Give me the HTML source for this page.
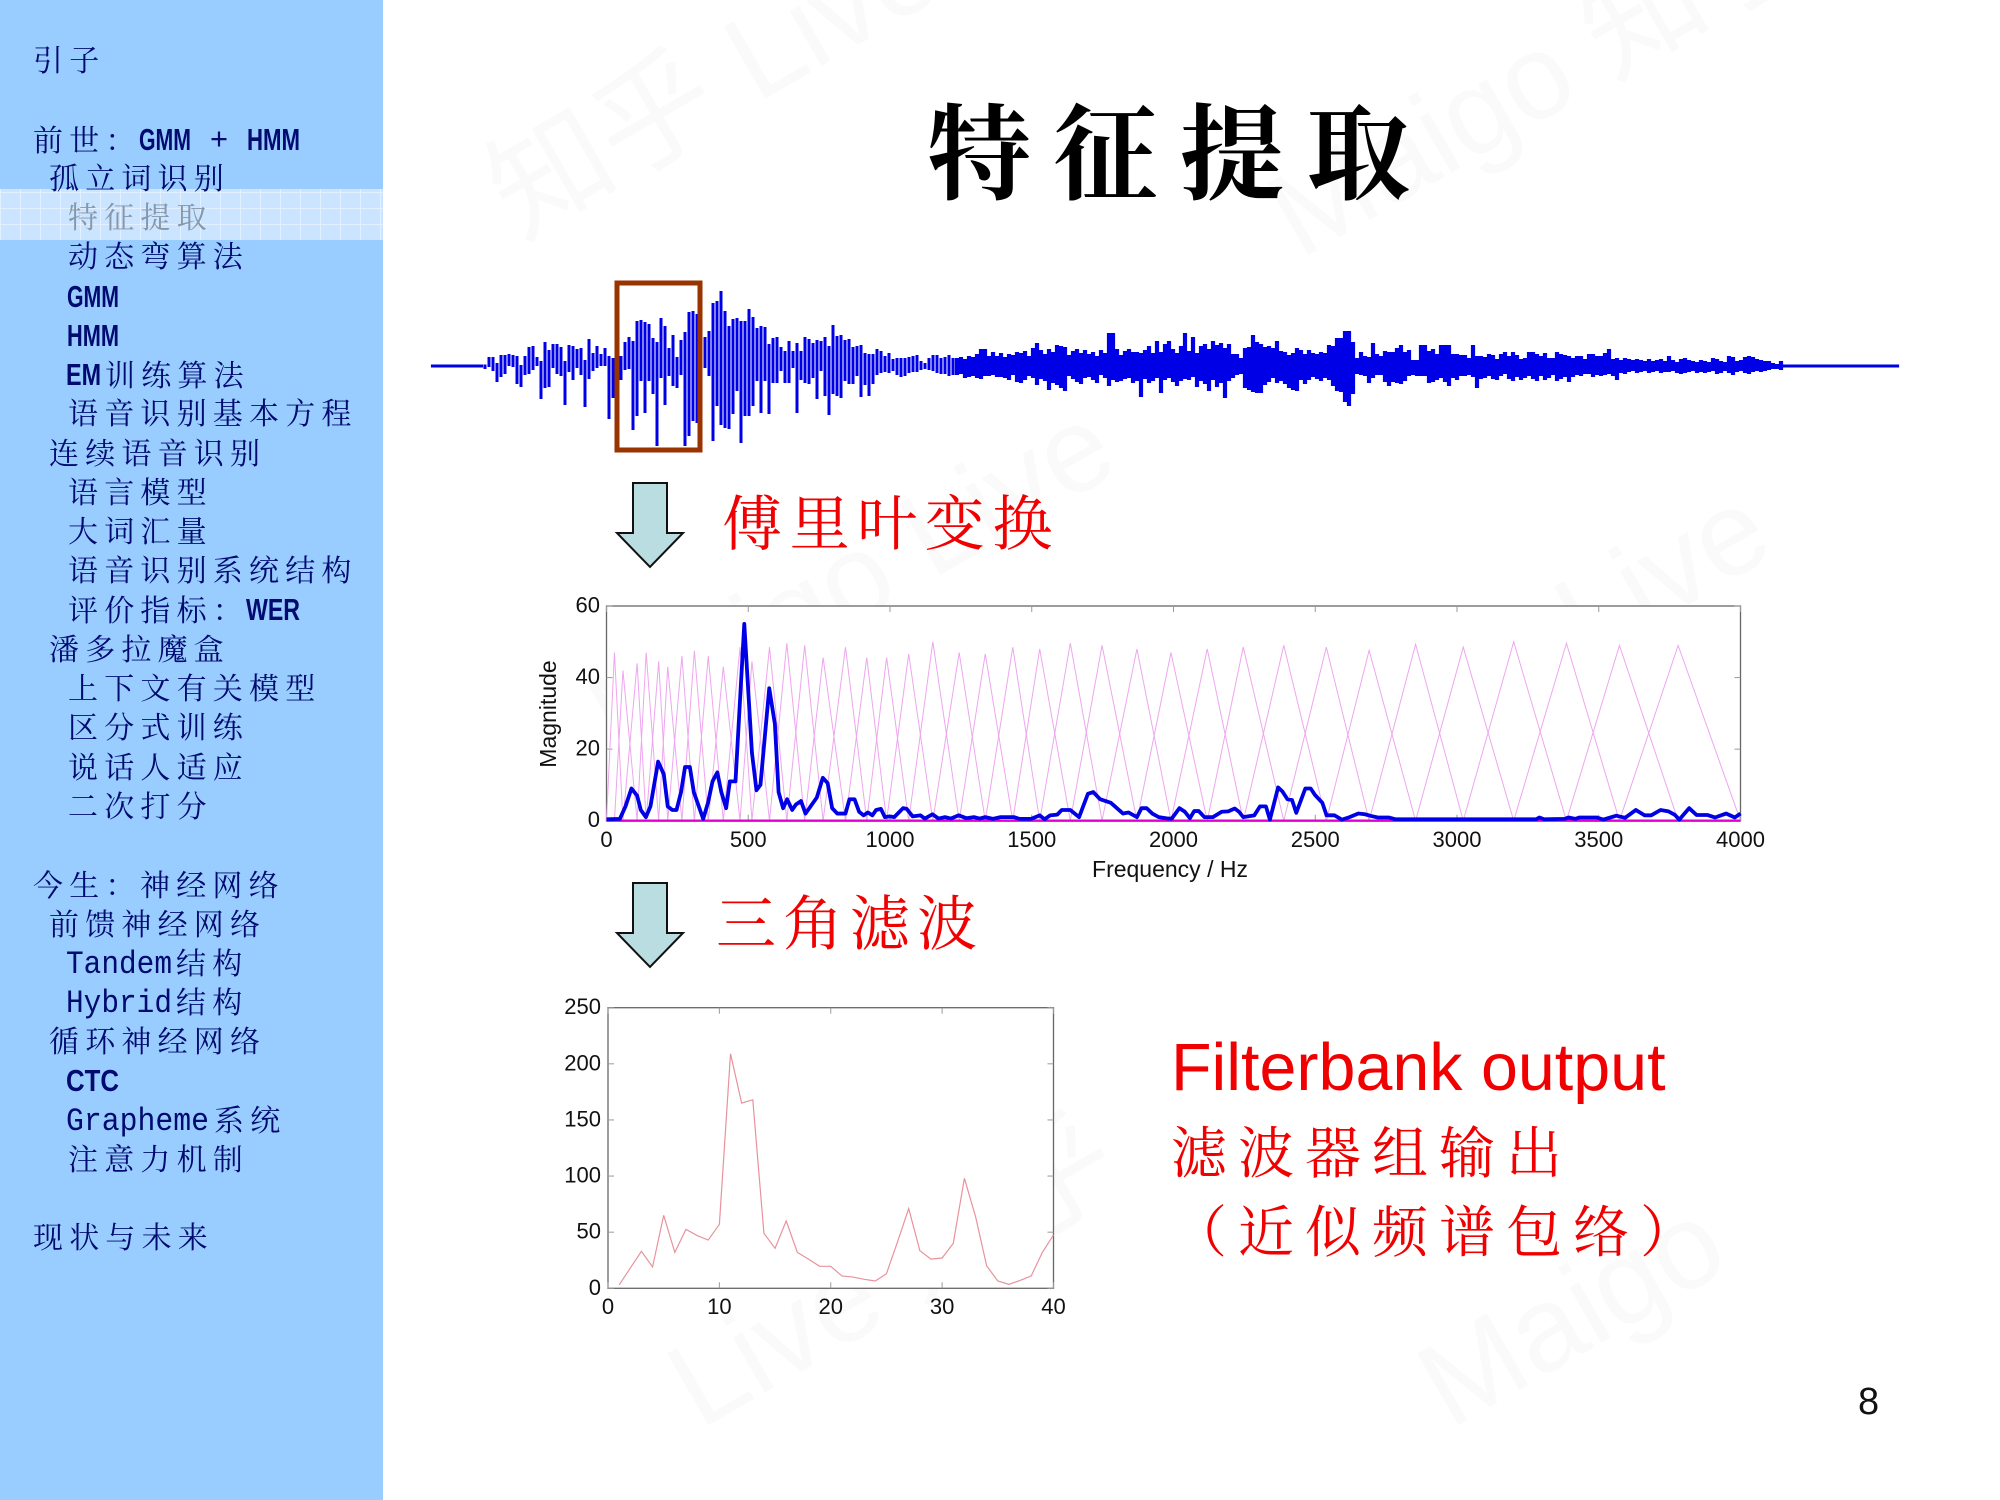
<!DOCTYPE html>
<html lang="zh">
<head>
<meta charset="utf-8">
<title>特征提取</title>
<style>
html,body{margin:0;padding:0;background:#fff;}
svg{display:block;}
.cn{font-family:"Liberation Serif","Noto Serif CJK SC",serif;}
.nav{font-family:"Liberation Sans","Noto Serif CJK SC",serif;font-size:30px;letter-spacing:6.2px;fill:#000a70;transform:translateY(1px);}
.lat{font-family:"Liberation Sans",sans-serif;font-size:31px;fill:#000a70;letter-spacing:0;}
.latb{font-weight:bold;}
.mono{font-family:"Liberation Mono",monospace;font-size:32px;fill:#000a70;}
.tk{font-family:"Liberation Sans",sans-serif;font-size:22px;fill:#111;}
.ttl{font-family:"Liberation Sans",sans-serif;font-size:23px;fill:#111;}
.wm{font-family:"Liberation Sans","Noto Sans CJK SC",sans-serif;font-size:120px;fill:#fbfafb;}
</style>
</head>
<body>
<svg id="slide" xmlns="http://www.w3.org/2000/svg" width="2000" height="1500" viewBox="0 0 2000 1500">
<defs>
<pattern id="band" width="20" height="16" patternUnits="userSpaceOnUse">
<rect width="20" height="16" fill="#cbe4ff"/>
<path d="M0 .5H20M.5 0V16" stroke="#e2f0ff" stroke-width="1"/>
</pattern>
</defs>
<rect width="2000" height="1500" fill="#fff"/>

<g>
<text class="wm" transform="translate(520 240) rotate(-30)">知乎 Live</text>
<text class="wm" transform="translate(1300 260) rotate(-30)">Maigo 知乎</text>
<text class="wm" transform="translate(620 760) rotate(-30)">Maigo Live</text>
<text class="wm" transform="translate(1350 800) rotate(-30)">知乎 Live</text>
<text class="wm" transform="translate(700 1430) rotate(-30)">Live 知乎</text>
<text class="wm" transform="translate(1450 1430) rotate(-30)">Maigo</text>
</g>

<rect width="383" height="1500" fill="#99ccff"/>
<rect y="189" width="383" height="51" fill="url(#band)"/>

<g>
<text class="nav" x="33" y="70">引子</text>
<g>
<text class="nav" x="33" y="150">前世：</text>
<text class="lat latb" x="139" y="150" textLength="52" lengthAdjust="spacingAndGlyphs">GMM</text>
<text class="lat" x="210" y="149" textLength="18" lengthAdjust="spacingAndGlyphs">+</text>
<text class="lat latb" x="247" y="150" textLength="53" lengthAdjust="spacingAndGlyphs">HMM</text>
</g>
<text class="nav" x="49" y="188">孤立词识别</text>
<text class="nav" x="68" y="227" style="fill:#8597ab">特征提取</text>
<text class="nav" x="68" y="266">动态弯算法</text>
<text class="lat latb" x="67" y="307" textLength="52" lengthAdjust="spacingAndGlyphs">GMM</text>
<text class="lat latb" x="67" y="346" textLength="52" lengthAdjust="spacingAndGlyphs">HMM</text>
<g>
<text class="lat latb" x="66" y="385" textLength="35" lengthAdjust="spacingAndGlyphs">EM</text>
<text class="nav" x="105" y="385">训练算法</text>
</g>
<text class="nav" x="68" y="423">语音识别基本方程</text>
<text class="nav" x="49" y="463">连续语音识别</text>
<text class="nav" x="68" y="502">语言模型</text>
<text class="nav" x="68" y="541">大词汇量</text>
<text class="nav" x="68" y="580">语音识别系统结构</text>
<g>
<text class="nav" x="68" y="620">评价指标：</text>
<text class="lat latb" x="246" y="620" textLength="54" lengthAdjust="spacingAndGlyphs">WER</text>
</g>
<text class="nav" x="49" y="659">潘多拉魔盒</text>
<text class="nav" x="68" y="698">上下文有关模型</text>
<text class="nav" x="68" y="737">区分式训练</text>
<text class="nav" x="68" y="777">说话人适应</text>
<text class="nav" x="68" y="816">二次打分</text>
<g>
<text class="nav" x="33" y="895">今生：</text>
<text class="nav" x="140" y="895">神经网络</text>
</g>
<text class="nav" x="49" y="934">前馈神经网络</text>
<g>
<text class="mono" x="66" y="973" textLength="106" lengthAdjust="spacingAndGlyphs">Tandem</text>
<text class="nav" x="176" y="973">结构</text>
</g>
<g>
<text class="mono" x="66" y="1012" textLength="106" lengthAdjust="spacingAndGlyphs">Hybrid</text>
<text class="nav" x="176" y="1012">结构</text>
</g>
<text class="nav" x="49" y="1051">循环神经网络</text>
<text class="lat latb" x="66" y="1091" textLength="53" lengthAdjust="spacingAndGlyphs">CTC</text>
<g>
<text class="mono" x="66" y="1130" textLength="143" lengthAdjust="spacingAndGlyphs">Grapheme</text>
<text class="nav" x="214" y="1130">系统</text>
</g>
<text class="nav" x="68" y="1169">注意力机制</text>
<text class="nav" x="33" y="1247">现状与未来</text>
</g>

<text class="cn" x="927" y="191" font-size="104" font-weight="700" letter-spacing="22.5" fill="#000">特征提取</text>

<g id="waveform"></g>
<rect x="617" y="283" width="83" height="167" fill="none" stroke="#993300" stroke-width="5"/>

<polygon points="633,483 667,483 667,533 683,533 650,567 617,533 633,533" fill="#b9dde1" stroke="#111" stroke-width="2"/>
<text class="cn" x="722" y="545" font-size="60" letter-spacing="7.6" fill="#f00000">傅里叶变换</text>

<g id="spectrum-chart"></g>

<polygon points="633,883 667,883 667,933 683,933 650,967 617,933 633,933" fill="#b9dde1" stroke="#111" stroke-width="2"/>
<text class="cn" x="716" y="945" font-size="60" letter-spacing="7" fill="#f00000">三角滤波</text>

<g id="filterbank-chart"></g>

<text x="1171" y="1090" font-family="Liberation Sans, sans-serif" font-size="66.4" fill="#f00000">Filterbank output</text>
<text class="cn" x="1171" y="1173" font-size="56" letter-spacing="11" fill="#f00000">滤波器组输出</text>
<text class="cn" x="1171" y="1252" font-size="56" letter-spacing="11" fill="#f00000">（近似频谱包络）</text>
<text x="1858" y="1414" font-family="Liberation Sans, sans-serif" font-size="38" fill="#111">8</text>
</svg>

<script>
/* ---------- waveform: estimated amplitude above / below the centre line ---------- */
const waveUpper = [
1.5,1.5,1.5,1.5,1.5,1.5,1.5,1.5,1.5,1.5,1.5,1.5,1.5,1.5,
9,9,3,11,11,12,11,10,1,10,19,20,9,5,24,16,22,22,19,5,21,20,17,18,6,27,13,20,12,18,10,
8,28,10,24,29,25,45,46,44,42,28,24,48,40,18,31,9,26,34,54,55,
52,36,29,35,63,65,75,55,40,47,48,45,45,57,49,38,40,39,22,28,29,19,15,25,15,23,15,29,27,23,26,25,29,20,41,30,31,26,27,19,20,21,13,12,12,17,15,10,13,7,8,8,8,9,10,11,5,3,8,11,11,8,
9,11,8,
8,9,7,10,9,12,17,17,10,14,10,13,9,12,11,14,13,15,10,18,23,16,12,17,14,21,20,19,11,15,17,13,16,12,14,10,16,13,33,33,17,11,15,17,14,14,13,16,20,13,25,14,22,25,17,13,20,33,15,29,13,20,22,17,25,21,
23,18,22,12,12,8,18,19,31,24,22,19,20,18,25,15,14,11,13,18,16,12,16,13,12,14,13,21,20,28,28,35,35,24,8,14,10,9,23,12,10,15,14,14,18,21,14,16,6,6,21,21,15,17,12,21,21,21,12,12,11,11,8,21,10,10,9,12,11,7,12,14,10,14,11,7,8,14,14,12,10,13,8,8,14,12,11,10,8,10,10,7,12,12,10,10,13,17,7,8,6,8,7,6,7,6,5,7,5,6,7,5,10,6,4,7,8,6,5,4,6,5,4,8,7,5,4,10,9,5,6,9,10,9,7,6,5,5,3,2,5,1.5,
1.5,1.5,1.5,1.5,1.5,1.5,1.5,1.5,1.5,1.5,1.5,1.5,1.5,1.5,1.5,1.5,1.5,1.5,1.5,1.5,1.5,1.5,1.5,1.5,1.5,1.5,1.5,1.5
];
const waveLower = [
1.5,1.5,1.5,1.5,1.5,1.5,1.5,1.5,1.5,1.5,1.5,1.5,1.5,3,
1,5,16,11,8,0,1,18,21,9,8,4,0,33,22,21,2,8,10,39,6,14,2,9,41,13,5,2,0,0,53,
32,2,14,4,3,64,50,15,47,15,28,80,12,39,10,20,22,9,80,70,55,
57,47,2,10,75,40,59,62,63,48,25,77,50,50,40,15,47,15,48,17,17,5,17,17,2,47,14,17,18,12,33,5,30,49,28,30,32,15,18,18,10,31,19,30,18,9,7,6,7,5,9,11,10,7,6,6,4,3,4,5,7,8,
8,10,9,
9,8,12,11,10,12,13,10,10,9,11,11,12,14,9,16,17,14,10,12,19,13,15,24,17,19,22,25,10,13,16,18,12,11,14,17,9,12,20,14,16,15,13,12,17,15,31,13,17,15,12,27,14,12,16,20,15,13,14,11,21,15,18,25,14,21,
17,32,15,12,9,8,22,24,26,27,27,19,16,12,17,15,18,22,24,25,14,18,14,11,13,15,12,14,20,25,26,36,40,28,8,9,10,17,12,9,9,16,20,16,17,18,15,10,9,10,10,10,17,16,14,12,16,20,12,14,10,10,9,11,22,13,12,10,13,14,10,8,13,15,11,14,12,10,13,15,10,14,12,9,15,13,11,16,11,9,10,8,8,11,9,10,9,8,10,14,7,8,6,5,7,6,5,7,6,5,7,6,6,5,7,8,7,6,5,7,6,7,6,5,8,7,5,7,9,6,5,7,8,6,5,6,5,4,3,3,4,1.5,
1.5,1.5,1.5,1.5,1.5,1.5,1.5,1.5,1.5,1.5,1.5,1.5,1.5,1.5,1.5,1.5,1.5,1.5,1.5,1.5,1.5,1.5,1.5,1.5,1.5,1.5,1.5,1.5
];
const waveDenseFrom = 131;

/* ---------- spectrum chart ---------- */
const specHz = [0,47,67,88,108,121,139,155,182,202,216,232,247,263,277,294,308,341,358,374,391,405,422,435,455,486,513,529,543,574,594,607,623,637,655,668,686,702,742,763,780,796,814,843,857,875,891,907,922,938,951,968,982,999,1015,1046,1059,1080,1107,1123,1150,1171,1194,1215,1242,1269,1296,1316,1336,1363,1390,1437,1457,1498,1528,1545,1565,1590,1606,1636,1667,1698,1717,1741,1779,1822,1841,1871,1887,1905,1925,1948,1979,1994,2021,2040,2058,2073,2089,2109,2139,2170,2193,2216,2231,2246,2285,2305,2326,2340,2369,2384,2402,2418,2433,2465,2484,2499,2525,2540,2568,2594,2621,2652,2675,2698,2721,2759,2782,3279,3291,3307,3379,3394,3417,3432,3493,3516,3562,3593,3631,3662,3685,3718,3746,3769,3784,3819,3845,3883,3910,3949,3980,4000];
const specMag = [0.4,0.5,4,9,7,3,1,4,16.5,13,4,3,3,8,15,15,8,0.5,5,11,13.5,8,3.5,11,11,55,19,8.5,10,37,27,8,3.5,6,3,4.5,5.5,2,6.5,12,10.5,3.5,2,2,6,6,2.5,1.5,2.3,1.5,3,3.3,1,1.2,1,3.5,3.3,1.2,1.5,0.6,1.8,0.6,1,0.6,1.5,0.7,1,0.6,1,0.5,1,1,0.5,0.5,1.5,0.4,1.5,1.7,3,3,1,7.5,8,6,5,2,2.3,1,3.5,3.5,2,1,0.6,0.6,3.5,2.5,0.7,2.7,2.7,1,1,2.5,2.6,3.4,2.5,1,1.5,4,4,0.3,9.3,8.2,6,5.8,2.2,9,9,7.2,5,1.5,1.5,0.3,1,2,1.8,1.3,0.9,0.9,0.4,0.4,0.9,0.4,0.5,0.9,0.5,0.9,0.9,0.3,1.4,0.8,3,1.5,1.5,3,2.6,1.6,0.3,3.5,1.6,1.6,0.9,2,0.9,2];
const melPeakHz = [28,58,108,140,184,216,266,310,359,412,471,513,575,636,699,764,843,918,988,1066,1151,1244,1336,1433,1528,1636,1748,1871,1991,2119,2246,2389,2539,2690,2854,3022,3200,3386,3573,3780];
const melPeakMag = [47,42,44,47,44.5,43,46,47.5,46,43,48.5,44.5,48.5,49.6,49,45.6,48.5,45.6,45.6,46.6,50,47,46.6,48.5,48,49.6,49,48,47,48,48.5,49,48.5,47.6,49.3,48.5,50,49.6,49,49];
const specXTicks = [0,500,1000,1500,2000,2500,3000,3500,4000];
const specYTicks = [0,20,40,60];

/* ---------- filterbank chart ---------- */
const fbIndex = [1,2,3,4,5,6,7,8,9,10,11,12,13,14,15,16,17,18,19,20,21,22,23,24,25,26,27,28,29,30,31,32,33,34,35,36,37,38,39,40];
const fbValue = [3,18,33,19,65,32,52.5,47,43,57,209,165,168,49,35.6,60,32,26,19.6,19.6,11,10,8,6.5,13,41.5,71,33.5,26,27,40,98,64,20,6.5,3.5,7,11,32,47.5];
const fbXTicks = [0,10,20,30,40];
const fbYTicks = [0,50,100,150,200,250];

const NS = 'http://www.w3.org/2000/svg';
function make(tag, parent, attrs) {
  const el = document.createElementNS(NS, tag);
  for (const k in attrs) el.setAttribute(k, attrs[k]);
  parent.appendChild(el);
  return el;
}

/* axis functions */
const waveX = i => 433 + i * 4;
const waveY = a => 366 - a;
const specX = hz => 606.5 + hz / 4000 * 1134;
const specY = m => 820.7 - m / 60 * 214.7;
const fbX = i => 608 + i / 40 * 445.5;
const fbY = v => 1288.3 - v / 250 * 280.6;

/* waveform */
const waveGroup = document.getElementById('waveform');
waveUpper.forEach(function (up, i) {
  const low = waveLower[i] || 0;
  const flat = up <= 1.5 && low <= 1.5;
  const stem = make('line', waveGroup, {
    x1: waveX(i), x2: waveX(i), y1: waveY(up), y2: waveY(-low),
    stroke: '#0000e6',
    'stroke-width': (i >= waveDenseFrom || flat) ? 4.2 : 3
  });
  
  
});

/* generic axes */
function drawAxes(group, box, xTicks, yTicks, xs, ys, xLabelY, yLabelX, prefix) {
  const frame = make('rect', group, {
    x: box.l, y: box.t, width: box.r - box.l, height: box.b - box.t,
    fill: '#fff', stroke: '#666', 'stroke-width': 1.3
  });
  
  
  xTicks.forEach(function (t) {
    const x = xs(t);
    const bottomTick = make('line', group, { x1: x, x2: x, y1: box.b, y2: box.b - 6, stroke: '#999', 'stroke-width': 1 });
    
    
    const topTick = make('line', group, { x1: x, x2: x, y1: box.t, y2: box.t + 6, stroke: '#999', 'stroke-width': 1 });
    
    
    const label = make('text', group, { x: x, y: xLabelY, 'text-anchor': 'middle', class: 'tk' });
    label.textContent = t;
    
    
  });
  yTicks.forEach(function (t) {
    const y = ys(t);
    const leftTick = make('line', group, { x1: box.l, x2: box.l + 6, y1: y, y2: y, stroke: '#999', 'stroke-width': 1 });
    
    
    const rightTick = make('line', group, { x1: box.r, x2: box.r - 6, y1: y, y2: y, stroke: '#999', 'stroke-width': 1 });
    
    
    const label = make('text', group, { x: yLabelX, y: y + 6.5, 'text-anchor': 'end', class: 'tk' });
    label.textContent = t;
    
    
  });
}

/* spectrum */
const specGroup = document.getElementById('spectrum-chart');
drawAxes(specGroup, { l: specX(0), r: specX(4000), t: specY(60), b: specY(0) },
  specXTicks, specYTicks, specX, specY, 847, 600, 'spectrum');
melPeakHz.forEach(function (hz, i) {
  const startHz = i === 0 ? 0 : melPeakHz[i - 1];
  const endHz = i === melPeakHz.length - 1 ? 4000 : melPeakHz[i + 1];
  const pts = [[startHz, 0], [hz, melPeakMag[i]], [endHz, 0]]
    .map(function (p) { return specX(p[0]) + ',' + specY(p[1]); }).join(' ');
  const tri = make('polyline', specGroup, { points: pts, fill: 'none', stroke: '#eea6ee', 'stroke-width': 1 });
  
  
});
const specBase = make('line', specGroup, { x1: specX(0), x2: specX(4000), y1: specY(0), y2: specY(0), stroke: '#e000d0', 'stroke-width': 2.4 });


const specLine = make('polyline', specGroup, {
  points: specHz.map(function (hz, i) { return specX(hz) + ',' + specY(specMag[i]); }).join(' '),
  fill: 'none', stroke: '#0000e6', 'stroke-width': 3.8, 'stroke-linejoin': 'round'
});


const specXTitle = make('text', specGroup, { x: 1170, y: 877, 'text-anchor': 'middle', class: 'ttl' });
specXTitle.textContent = 'Frequency / Hz';


const specYTitle = make('text', specGroup, { transform: 'translate(556 714) rotate(-90)', 'text-anchor': 'middle', class: 'ttl' });
specYTitle.textContent = 'Magnitude';



/* filterbank */
const fbGroup = document.getElementById('filterbank-chart');
drawAxes(fbGroup, { l: fbX(0), r: fbX(40), t: fbY(250), b: fbY(0) },
  fbXTicks, fbYTicks, fbX, fbY, 1314, 601, 'filterbank');
const fbLine = make('polyline', fbGroup, {
  points: fbIndex.map(function (n, i) { return fbX(n) + ',' + fbY(fbValue[i]); }).join(' '),
  fill: 'none', stroke: '#e8929c', 'stroke-width': 1.2
});


</script>
</body>
</html>
